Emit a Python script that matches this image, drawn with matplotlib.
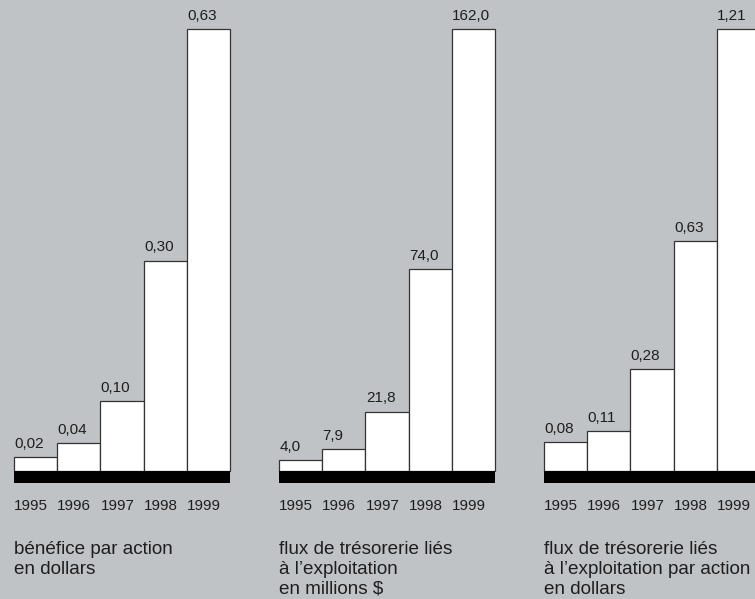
import matplotlib.pyplot as plt
from matplotlib.patches import Rectangle

plt.rcParams['font.family'] = ['Liberation Sans', 'DejaVu Sans']

years = ['1995', '1996', '1997', '1998', '1999']

eps = [0.02, 0.04, 0.10, 0.30, 0.63]
eps_labels = ['0,02', '0,04', '0,10', '0,30', '0,63']

cash_flow = [4.0, 7.9, 21.8, 74.0, 162.0]
cash_flow_labels = ['4,0', '7,9', '21,8', '74,0', '162,0']

cash_flow_share = [0.08, 0.11, 0.28, 0.63, 1.21]
cash_flow_share_labels = ['0,08', '0,11', '0,28', '0,63', '1,21']

captions = ['bénéfice par action\nen dollars',
            'flux de trésorerie liés\nà l’exploitation\nen millions $',
            'flux de trésorerie liés\nà l’exploitation par action\nen dollars']

BG = '#c0c3c6'
TXT = '#1e1e1e'
W, H = 755, 599

fig = plt.figure(figsize=(W / 100, H / 100), dpi=100)
fig.patch.set_facecolor(BG)

# pixel layout of each small chart: left edge, baseline, plot height, width
lefts = [14, 279, 544]
base_y = 471
plot_h = 442
plot_w = 216
base_h = 12

panels = [(eps, eps_labels), (cash_flow, cash_flow_labels),
          (cash_flow_share, cash_flow_share_labels)]

for left, (vals, labels), cap in zip(lefts, panels, captions):
    ax = fig.add_axes([left / W, (H - base_y) / H, plot_w / W, plot_h / H])
    ax.set_facecolor('none')
    x = list(range(len(vals)))
    ax.bar(x, vals, width=1.0, color='white', edgecolor='#333333',
           linewidth=0.9, clip_on=False)
    ax.set_xlim(-0.5, len(vals) - 0.5)
    ax.set_ylim(0, max(vals))

    for xi, v, lab in zip(x, vals, labels):
        ax.annotate(lab, (xi - 0.5, v), xytext=(0.3, 6.5),
                    textcoords='offset points', ha='left', va='baseline',
                    fontsize=11, color=TXT, annotation_clip=False)

    # black base strip under the bars
    ax.add_patch(Rectangle((0, -base_h / plot_h), 1, base_h / plot_h,
                           transform=ax.transAxes, facecolor='black',
                           edgecolor='none', clip_on=False))

    ax.set_xticks([xi - 0.5 for xi in x])
    ax.set_xticklabels(years, ha='left', fontsize=11, color=TXT)
    ax.tick_params(axis='x', length=0, pad=20)
    ax.set_yticks([])
    for s in ax.spines.values():
        s.set_visible(False)

    fig.text(left / W, 1 - 540.5 / H, cap, ha='left', va='top',
             fontsize=13.6, color=TXT, linespacing=1.24)

fig.savefig('out.png', dpi=100, facecolor=BG)
